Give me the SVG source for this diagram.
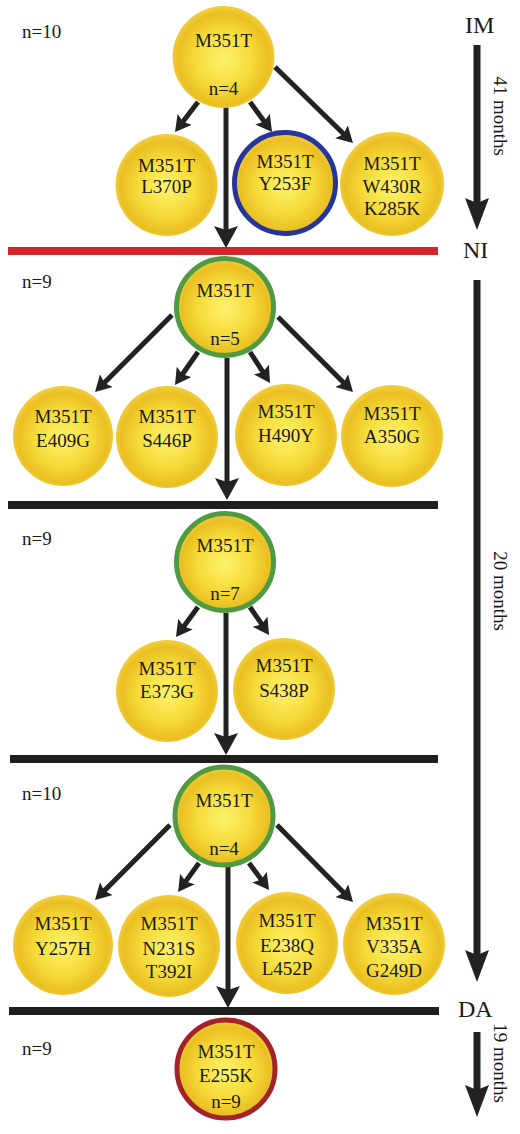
<svg xmlns="http://www.w3.org/2000/svg" width="520" height="1134" viewBox="0 0 520 1134" font-family="Liberation Serif, DejaVu Serif, serif">
<style>
text{font-family:'Liberation Serif','DejaVu Serif',serif;fill:#1a1a1a}
.nt{font-size:19px;text-anchor:middle}
.lb{font-size:19px}
.tl{font-size:24px}
.rt{font-size:19px;text-anchor:middle}
.ball{fill:url(#ball)}
.g{stroke:#4f9a43;stroke-width:5}
.b{stroke:#25359a;stroke-width:5}
.r{stroke:#a3232a;stroke-width:5}
.ar{stroke:#222;stroke-width:5;fill:none;marker-end:url(#ah)}
.av{stroke:#222;stroke-width:5;fill:none;marker-end:url(#av)}
.at{stroke:#222;stroke-width:7;fill:none;marker-end:url(#at)}
.hl{stroke:#1e1e1e;stroke-width:8}
</style>
<defs>
<radialGradient id="ball" cx="0.5" cy="0.52" r="0.5">
<stop offset="0" stop-color="#fdf26e"/>
<stop offset="0.55" stop-color="#f6dc3a"/>
<stop offset="0.9" stop-color="#eabf22"/>
<stop offset="1" stop-color="#f0cc3a"/>
</radialGradient>
<marker id="ah" markerUnits="userSpaceOnUse" markerWidth="16" markerHeight="18" refX="6" refY="9" orient="auto">
<path d="M0,0 L16,9 L0,18 L3,9 z" fill="#222"/>
</marker>
<marker id="av" markerUnits="userSpaceOnUse" markerWidth="22" markerHeight="24" refX="8" refY="12" orient="auto">
<path d="M0,0 L22,12 L0,24 L4,12 z" fill="#222"/>
</marker>
<marker id="at" markerUnits="userSpaceOnUse" markerWidth="32" markerHeight="24" refX="10" refY="12" orient="auto">
<path d="M0,0 L32,12 L0,24 L5,12 z" fill="#222"/>
</marker>
</defs>
<rect width="520" height="1134" fill="#fff"/>

<g id="timeline">
<line class="hl" x1="8" y1="251" x2="438" y2="251" style="stroke:#d0262b"/>
<line class="hl" x1="8" y1="505" x2="438" y2="505"/>
<line class="hl" x1="10" y1="759" x2="438" y2="759"/>
<line class="hl" x1="9" y1="1011" x2="439" y2="1011"/>
<text class="tl" x="465" y="33">IM</text>
<text class="tl" x="463" y="258">NI</text>
<text class="tl" x="458" y="1017">DA</text>
<text class="rt" transform="translate(494,116) rotate(90)">41 months</text>
<text class="rt" transform="translate(494,591) rotate(90)">20 months</text>
<text class="rt" transform="translate(494,1063) rotate(90)">19 months</text>
<text class="lb" x="22" y="38">n=10</text>
<text class="lb" x="22" y="288">n=9</text>
<text class="lb" x="22" y="545">n=9</text>
<text class="lb" x="22" y="800">n=10</text>
<text class="lb" x="22" y="1055">n=9</text>
</g>

<g id="connectors">
<line class="at" x1="477" y1="45" x2="477" y2="208"/>
<line class="at" x1="477" y1="280" x2="477" y2="960"/>
<line class="at" x1="477" y1="1032" x2="477" y2="1095"/>
<line class="ar" x1="198" y1="102" x2="181.1" y2="124.1"/>
<line class="ar" x1="250" y1="102" x2="266.1" y2="123.9"/>
<line class="ar" x1="275" y1="67" x2="345.8" y2="136"/>
<line class="av" x1="226" y1="107" x2="226" y2="234"/>
<line class="ar" x1="172" y1="315" x2="102.1" y2="384.9"/>
<line class="ar" x1="198" y1="352" x2="180.7" y2="376.8"/>
<line class="ar" x1="250" y1="352" x2="264.6" y2="374.6"/>
<line class="ar" x1="278" y1="317" x2="345.9" y2="384.9"/>
<line class="av" x1="227" y1="358" x2="227" y2="486"/>
<line class="ar" x1="198" y1="607" x2="181.9" y2="628.9"/>
<line class="ar" x1="250" y1="607" x2="263.4" y2="626.7"/>
<line class="av" x1="226" y1="613" x2="226" y2="741"/>
<line class="ar" x1="170" y1="825" x2="102.1" y2="892.9"/>
<line class="ar" x1="199" y1="863" x2="183.9" y2="883.9"/>
<line class="ar" x1="249" y1="863" x2="263.1" y2="882"/>
<line class="ar" x1="277" y1="825" x2="346" y2="894.9"/>
<line class="av" x1="228" y1="867" x2="228" y2="994"/>
</g>

<g id="n1"><circle class="ball" cx="223.5" cy="57" r="51"/><text class="nt" x="223.5" y="47">M351T</text><text class="nt" x="223.5" y="95">n=4</text></g>
<g id="n1a"><circle class="ball" cx="166.5" cy="185" r="51"/><text class="nt" x="166.5" y="172">M351T</text><text class="nt" x="166.5" y="193">L370P</text></g>
<g id="n1b"><circle class="ball b" cx="285" cy="183" r="50.5"/><text class="nt" x="285" y="168">M351T</text><text class="nt" x="285" y="190">Y253F</text></g>
<g id="n1c"><circle class="ball" cx="392" cy="184" r="52"/><text class="nt" x="392" y="170">M351T</text><text class="nt" x="392" y="193">W430R</text><text class="nt" x="392" y="215">K285K</text></g>

<g id="n2"><circle class="ball g" cx="225" cy="307" r="48.5"/><text class="nt" x="225" y="297">M351T</text><text class="nt" x="225" y="345">n=5</text></g>
<g id="n2a"><circle class="ball" cx="63" cy="436" r="50"/><text class="nt" x="63" y="423">M351T</text><text class="nt" x="63" y="447">E409G</text></g>
<g id="n2b"><circle class="ball" cx="167" cy="437" r="51"/><text class="nt" x="167" y="423">M351T</text><text class="nt" x="167" y="447">S446P</text></g>
<g id="n2c"><circle class="ball" cx="286" cy="435" r="51"/><text class="nt" x="286" y="418">M351T</text><text class="nt" x="286" y="442">H490Y</text></g>
<g id="n2d"><circle class="ball" cx="392" cy="436" r="51"/><text class="nt" x="392" y="420">M351T</text><text class="nt" x="392" y="443">A350G</text></g>

<g id="n3"><circle class="ball g" cx="225" cy="562" r="48.5"/><text class="nt" x="225" y="552">M351T</text><text class="nt" x="225" y="600">n=7</text></g>
<g id="n3a"><circle class="ball" cx="167" cy="691" r="51"/><text class="nt" x="167" y="675">M351T</text><text class="nt" x="167" y="698">E373G</text></g>
<g id="n3b"><circle class="ball" cx="284" cy="689" r="51"/><text class="nt" x="284" y="672">M351T</text><text class="nt" x="284" y="697">S438P</text></g>

<g id="n4"><circle class="ball g" cx="224" cy="816" r="49"/><text class="nt" x="224" y="807">M351T</text><text class="nt" x="224" y="855">n=4</text></g>
<g id="n4a"><circle class="ball" cx="63" cy="945" r="50"/><text class="nt" x="63" y="930">M351T</text><text class="nt" x="63" y="955">Y257H</text></g>
<g id="n4b"><circle class="ball" cx="169" cy="946" r="51"/><text class="nt" x="169" y="930">M351T</text><text class="nt" x="169" y="955">N231S</text><text class="nt" x="169" y="978">T392I</text></g>
<g id="n4c"><circle class="ball" cx="287" cy="943" r="51"/><text class="nt" x="287" y="927">M351T</text><text class="nt" x="287" y="952">E238Q</text><text class="nt" x="287" y="975">L452P</text></g>
<g id="n4d"><circle class="ball" cx="394" cy="944" r="51"/><text class="nt" x="394" y="930">M351T</text><text class="nt" x="394" y="953">V335A</text><text class="nt" x="394" y="977">G249D</text></g>

<g id="n5"><circle class="ball r" cx="226" cy="1069" r="49"/><text class="nt" x="226" y="1058">M351T</text><text class="nt" x="226" y="1082">E255K</text><text class="nt" x="226" y="1108">n=9</text></g>
</svg>
